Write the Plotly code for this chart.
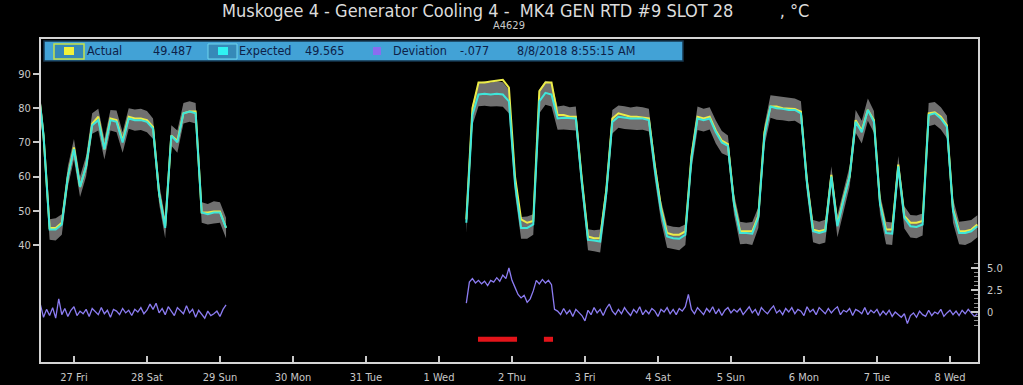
import pandas as pd
import plotly.graph_objects as go

# ---------------- data ----------------
day_ticks = ["2018-07-27", "2018-07-28", "2018-07-29", "2018-07-30", "2018-07-31",
             "2018-08-01", "2018-08-02", "2018-08-03", "2018-08-04", "2018-08-05",
             "2018-08-06", "2018-08-07", "2018-08-08"]
day_labels = ["27 Fri", "28 Sat", "29 Sun", "30 Mon", "31 Tue", "1 Wed", "2 Thu",
              "3 Fri", "4 Sat", "5 Sun", "6 Mon", "7 Tue", "8 Wed"]

# segment 1 : 2-hourly samples from 2018-07-26 12:00
seg1_start = "2018-07-26 12:00"
expected_1 = [88, 72, 44.5, 44.5, 46, 60, 68, 57, 63, 75,
              76.5, 68, 76.5, 76, 70, 77, 76.5, 76.5, 76, 74,
              55, 45, 72, 70, 78.5, 79, 78.5, 49.5, 49, 49.5,
              49.5, 45]
actual_1 = [88, 72, 45, 45, 46.5, 60, 68.5, 57, 63, 75.5,
            77.5, 68, 77, 76.5, 70.5, 77.5, 77, 77, 76.5, 74.5,
            55, 45.5, 72, 70.5, 78.5, 79, 79, 49.5, 49.5, 49.8,
            49.8, 45]
band_hi_1 = [91, 75, 47.5, 47.8, 49, 63, 71, 60, 66, 78.5,
             79.8, 71, 79.5, 79.3, 73, 80, 79.6, 79.8, 79.2, 77,
             58, 48, 75, 73.5, 81.5, 82, 81.5, 52.5, 52, 52.8,
             52.5, 48]
band_lo_1 = [85, 69, 41.5, 41.3, 43, 57, 65, 54, 60, 72.5,
             73.5, 65, 73.5, 73, 67, 74, 73.4, 73.6, 73, 71,
             52, 42, 69, 67, 75.5, 76, 75.5, 46.5, 46, 46.3,
             46.5, 42]

# segment 2 : 2-hourly samples from 2018-08-01 09:00
seg2_start = "2018-08-01 09:00"
expected_2 = [46.5, 78, 84, 84.2, 84, 84.2, 84, 82, 58, 45,
              45, 46, 82, 84.5, 84, 77, 77.2, 77, 77, 58,
              41.5, 41.3, 41, 55, 76, 77.5, 77.2, 77, 77, 77,
              76.5, 62, 50, 42.5, 42, 41.8, 43, 65, 77, 76.5,
              77, 73, 70, 69, 52, 43.5, 43.5, 43.3, 48, 72,
              80.5, 80, 79.8, 79.5, 79.5, 78.5, 58, 44, 43.5, 44,
              60, 45.5, 53, 60, 76, 73, 79.5, 76, 52, 43.5,
              43.3, 63, 48, 45.5, 45.3, 46, 78, 78.5, 77, 74.5,
              50, 43.5, 43.5, 44, 45.5]
actual_2 = [47.5, 80, 87.5, 87.5, 87.8, 88, 88.3, 86, 60, 47.5,
            46.5, 47, 85, 87.5, 87.5, 78, 78, 77.5, 77.5, 59,
            42.5, 42, 42, 56, 77, 78.5, 78, 77.5, 77.5, 77.2,
            77, 63, 51, 43.5, 43, 43, 44, 66, 77.5, 77,
            77.5, 73.5, 70.5, 69.5, 52.5, 44, 44, 44, 48.5, 73,
            80.5, 80.5, 80, 80, 79.8, 79, 58.5, 44.5, 44, 44.5,
            60.5, 46, 53.5, 60, 76.5, 73.5, 79.5, 76.5, 52.5, 44.5,
            44.5, 63.5, 48.5, 46.5, 46.5, 47, 78.5, 78.8, 77.5, 75,
            50.5, 44, 44, 44.5, 46]
band_hi_2 = [49.5, 81, 87.5, 87.8, 87.5, 87.9, 87.6, 85.5, 61, 48.2,
             48.3, 49, 85.5, 88, 87.6, 80.5, 80.8, 80.3, 80.5, 61,
             44.6, 44.3, 44.5, 58, 79.5, 80.8, 80.6, 80.2, 80.5, 80.3,
             79.8, 65, 53, 45.8, 45.3, 45.2, 46, 68, 80.5, 79.8,
             80.3, 76.5, 73.3, 72, 55, 46.8, 46.5, 46.7, 51, 75,
             83.8, 83.5, 83.2, 83, 82.8, 82, 61, 47.3, 46.8, 47.4,
             63, 48.8, 56, 63, 79.5, 76.3, 82.8, 79.2, 55, 46.8,
             46.6, 66, 51.3, 48.8, 48.6, 49.2, 81.5, 81.8, 80.3, 77.8,
             53.5, 46.8, 47, 47.3, 48.7]
band_lo_2 = [43.5, 75, 80.6, 80.7, 80.5, 80.6, 80.4, 78.5, 55, 41.8,
             41.8, 43, 78.5, 81, 80.5, 73.7, 73.8, 73.6, 73.5, 55,
             38.5, 38.2, 37.8, 52, 72.6, 74.3, 73.9, 73.7, 73.6, 73.7,
             73.2, 59, 47, 39.2, 38.8, 38.5, 40, 62, 73.6, 73.2,
             73.8, 69.7, 66.8, 66, 49, 40.2, 40.4, 40, 45, 69,
             77.2, 76.6, 76.5, 76.2, 76.3, 75.2, 55, 40.8, 40.2, 40.7,
             57, 42.3, 50, 57, 72.8, 69.7, 76.3, 72.8, 49, 40.2,
             40, 60, 44.8, 42.2, 42, 42.8, 74.7, 75.2, 73.8, 71.2,
             46.5, 40.2, 40, 40.8, 42.3]

# deviation : hourly samples
deviation_1 = [1.2, 0.8, -0.6, 0.3, -0.4, 0.5, -0.7, 1.5, -0.3, 0.4,
               -0.5, 0.2, 0.6, -0.4, 0.1, -0.2, 0.3, -0.5, 0.4, 0.0,
               -0.3, 0.5, -0.2, 0.2, -0.6, 0.3, 0.1, -0.3, 0.4, -0.1,
               0.2, -0.4, 0.3, 0.0, 0.5, -0.2, 0.2, 0.9, 0.3, 1.0,
               -0.1, 0.4, -0.3, 0.6, 0.1, -0.4, 0.5, 0.2, -0.2, 0.7,
               -0.1, 0.3, -0.6, 0.2, -0.3, -0.7, 0.1, -0.4, -0.2, 0.1,
               -0.5, 0.3, 0.8]
deviation_2 = [1.0, 3.4, 3.8, 3.3, 3.6, 3.2, 3.5, 3.0, 3.6, 3.4,
               3.9, 3.5, 4.2, 3.8, 5.0, 3.6, 2.8, 2.0, 1.6, 1.9,
               1.1, 1.5, 2.4, 3.6, 3.2, 3.7, 3.3, 3.6, 3.1, 0.3,
               0.1, -0.3, 0.4, -0.2, 0.2, -0.5, 0.3, 0.0, -0.4, -1.0,
               0.2, -0.3, 0.5, -0.1, 0.3, -0.4, 0.4, 0.9, 0.1, -0.3,
               0.3, -0.2, 0.5, 0.0, -0.4, 0.3, -0.1, 0.6, -0.3, 0.2,
               -0.2, 0.4, 0.1, -0.5, 0.3, 0.0, 0.5, -0.2, 0.3, -0.3,
               0.4, 0.1, 0.6, 2.0, 0.3, -0.2, 0.5, 0.1, -0.3, 0.4,
               0.0, 0.6, -0.2, 0.3, -0.4, 0.2, 0.5, -0.1, 0.3, 0.0,
               0.4, -0.3, 0.2, 0.6, -0.1, 0.3, -0.4, 0.5, 0.1, -0.2,
               0.3, 0.7, -0.1, 0.2, -0.3, 0.4, 0.0, 0.5, -0.2, 0.3,
               0.1, -0.4, 0.6, 0.0, 0.3, -0.3, 0.5, 0.1, -0.2, 0.4,
               -0.1, 0.3, 0.6, -0.3, 0.2, 0.0, 0.4, -0.4, 0.3, 0.1,
               -0.2, 0.5, -0.3, 0.2, -0.1, 0.3, -0.4, 0.1, -0.3, 0.2,
               -0.5, 0.0, -0.3, -0.6, -0.2, -1.3, -0.4, -0.1, -0.6, 0.1,
               -0.3, -0.5, 0.2, -0.4, 0.0, -0.2, 0.3, -0.5, -0.1, 0.2,
               -0.3, 0.1, -0.4, 0.2, -0.2, 0.3, -0.1, -0.5, -0.2]

# alarm periods
alarm_start = ["2018-08-01 12:50", "2018-08-02 10:30"]
alarm_end = ["2018-08-02 01:40", "2018-08-02 13:30"]
alarm_level = -3.1

legend_names = ["Actual", "Expected", "Deviation"]
legend_values = ["49.487", "49.565", "-.077"]
cursor_time = "8/8/2018 8:55:15 AM"
title_text = "Muskogee 4 - Generator Cooling 4 -  MK4 GEN RTD #9 SLOT 28         , °C"
subtitle_text = "A4629"

temp_ticks = [40, 50, 60, 70, 80, 90]
dev_ticks = [0, 2.5, 5.0]
dev_ticktext = ["0", "2.5", "5.0"]
dev_minor = [-1.5, -1.0, -0.5, 0.5, 1.0, 1.5, 2.0, 3.0, 3.5, 4.0, 4.5, 5.5]

# ---------------- layout geometry ----------------
W, H = 1023, 385
L, R, T, B = 41, 45, 39, 23
PW, PH = W - L - R, H - T - B


def px(x):
    return (x - L) / PW


def py(y):
    return (H - B - y) / PH


FONT = "DejaVu Sans Condensed, Liberation Sans Narrow, DejaVu Sans, sans-serif"
AXC = "#c8c8c8"

C_BAND = "#707070"
C_ACT = "#ecec48"
C_EXP = "#3ee6da"
C_DEV = "#8c7cf2"
C_ALM = "#e3141a"

fig = go.Figure()


def seg_times(start, n, freq):
    return list(pd.date_range(start, periods=n, freq=freq))


for start, exp_, act_, hi_, lo_ in [(seg1_start, expected_1, actual_1, band_hi_1, band_lo_1),
                                     (seg2_start, expected_2, actual_2, band_hi_2, band_lo_2)]:
    n = min(len(hi_), len(lo_))
    tb = seg_times(start, n, "2h")
    fig.add_trace(go.Scatter(x=tb + tb[::-1], y=list(hi_[:n]) + list(lo_[:n])[::-1],
                             fill="toself", fillcolor=C_BAND, line=dict(width=0),
                             mode="lines", hoverinfo="skip", showlegend=False))
    fig.add_trace(go.Scatter(x=seg_times(start, len(act_), "2h"), y=act_, mode="lines",
                             line=dict(color=C_ACT, width=2), showlegend=False))
    fig.add_trace(go.Scatter(x=seg_times(start, len(exp_), "2h"), y=exp_, mode="lines",
                             line=dict(color=C_EXP, width=2), showlegend=False))

fig.add_trace(go.Scatter(x=seg_times(seg1_start, len(deviation_1), "h"), y=deviation_1,
                         mode="lines", line=dict(color=C_DEV, width=1.3), yaxis="y2",
                         showlegend=False))
fig.add_trace(go.Scatter(x=seg_times(seg2_start, len(deviation_2), "h"), y=deviation_2,
                         mode="lines", line=dict(color=C_DEV, width=1.3), yaxis="y2",
                         showlegend=False))

ax_x, ax_y = [], []
for s, e in zip(alarm_start, alarm_end):
    ax_x += [s, e, None]
    ax_y += [alarm_level, alarm_level, None]
fig.add_trace(go.Scatter(x=ax_x, y=ax_y, mode="lines", yaxis="y2",
                         line=dict(color=C_ALM, width=5), showlegend=False))

fig.update_layout(
    width=W, height=H,
    margin=dict(l=L, r=R, t=T, b=B, autoexpand=False),
    paper_bgcolor="black", plot_bgcolor="black",
    showlegend=False, hovermode=False,
    font=dict(family=FONT, color=AXC, size=11),
    xaxis=dict(type="date", range=["2018-07-26 13:10", "2018-08-08 09:13"],
               tickmode="array", tickvals=day_ticks, ticktext=day_labels,
               ticks="inside", ticklen=6, tickwidth=1.5, tickcolor=AXC,
               showline=True, mirror=True, linecolor="#d4d4d4", linewidth=2,
               showgrid=False, zeroline=False, ticklabelstandoff=4, automargin=False,
               tickfont=dict(size=11, color=AXC, family=FONT)),
    yaxis=dict(range=[5.79, 100.23], tickmode="array", tickvals=temp_ticks,
               ticks="outside", ticklen=6, tickwidth=1.5, tickcolor=AXC,
               showline=True, mirror=True, linecolor="#d4d4d4", linewidth=2,
               showgrid=False, zeroline=False, automargin=False,
               tickfont=dict(size=11, color=AXC, family=FONT)),
    yaxis2=dict(range=[-5.68, 31.02], overlaying="y", side="right",
                tickmode="array", tickvals=dev_ticks, ticktext=dev_ticktext,
                ticks="inside", ticklen=7, tickwidth=1.5, tickcolor=AXC,
                minor=dict(tickmode="array", tickvals=dev_minor, ticks="inside",
                           ticklen=4, tickcolor="#909090", tickwidth=1),
                showline=False, showgrid=False, zeroline=False, ticklabelstandoff=8,
                automargin=False,
                tickfont=dict(size=11, color=AXC, family=FONT)),
)

shapes = []
annos = []
# legend bar
shapes.append(dict(type="rect", xref="paper", yref="paper",
                   x0=px(44), x1=px(683), y0=py(61), y1=py(41),
                   fillcolor="#42a2d6", line=dict(color="#16364e", width=1.5), layer="above"))
# actual swatch
shapes.append(dict(type="rect", xref="paper", yref="paper",
                   x0=px(54), x1=px(84), y0=py(59), y1=py(44),
                   fillcolor="#3689b8", line=dict(color="#c6e24c", width=1.5), layer="above"))
shapes.append(dict(type="rect", xref="paper", yref="paper",
                   x0=px(64), x1=px(74), y0=py(55), y1=py(47),
                   fillcolor="#f2f23a", line=dict(width=0), layer="above"))
# expected swatch
shapes.append(dict(type="rect", xref="paper", yref="paper",
                   x0=px(208), x1=px(237), y0=py(59), y1=py(44),
                   fillcolor="#3689b8", line=dict(color="#6fd6ee", width=1), layer="above"))
shapes.append(dict(type="rect", xref="paper", yref="paper",
                   x0=px(218), x1=px(228), y0=py(55), y1=py(47),
                   fillcolor="#2ff2f2", line=dict(width=0), layer="above"))
# deviation swatch
shapes.append(dict(type="rect", xref="paper", yref="paper",
                   x0=px(373), x1=px(381), y0=py(55), y1=py(47),
                   fillcolor="#8a6cf0", line=dict(width=0), layer="above"))

LEG_C = "#0d2148"
leg_items = [(legend_names[0], 86), (legend_values[0], 152), (legend_names[1], 238),
             (legend_values[1], 304), (legend_names[2], 392), (legend_values[2], 459),
             (cursor_time, 516)]
for txt, xx in leg_items:
    annos.append(dict(text=txt, xref="paper", yref="paper", x=px(xx), y=py(51),
                      xanchor="left", yanchor="middle", showarrow=False,
                      font=dict(family=FONT, size=12.5, color=LEG_C), borderpad=0))

annos.append(dict(text=title_text.replace(" ", "\u00a0"), xref="paper", yref="paper",
                  x=px(515), y=py(10), xanchor="center", yanchor="middle", showarrow=False,
                  borderpad=0,
                  font=dict(family=FONT, size=18, color="#dcdcdc")))
annos.append(dict(text=subtitle_text, xref="paper", yref="paper",
                  x=px(509), y=py(26), xanchor="center", yanchor="middle", showarrow=False,
                  borderpad=0,
                  font=dict(family=FONT, size=11, color="#c8c8c8")))

fig.update_layout(shapes=shapes, annotations=annos)
fig.write_html("out.html")
